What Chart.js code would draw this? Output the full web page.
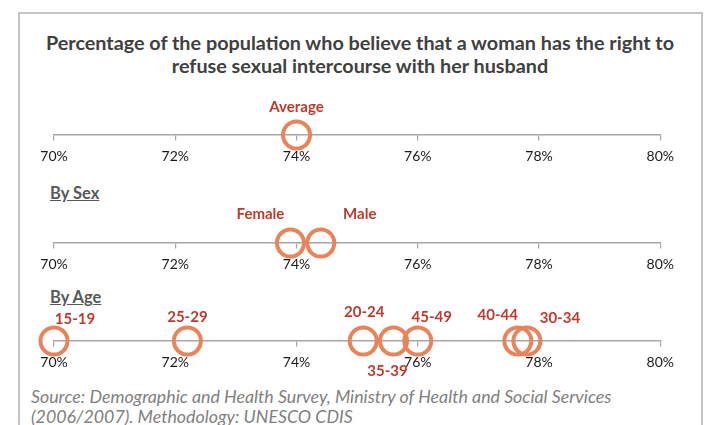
<!DOCTYPE html>
<html>
<head>
<meta charset="utf-8">
<script src="https://cdn.jsdelivr.net/npm/chart.js@4"></script>
<style>
  body { margin: 0; width: 711px; height: 425px; background: #fff; position: relative; overflow: hidden; font-family: Lato, "Open Sans", sans-serif; }
  .frame { position: absolute; left: 18px; top: 12px; width: 681px; height: 440px; border: 2px solid #c4c4c4; }
  .title { position: absolute; left: 20px; width: 680px; top: 31px; text-align: center; font-weight: bold; font-size: 19.8px; line-height: 23px; color: #404040; }
  .section { position: absolute; left: 50px; font-weight: bold; font-size: 16.5px; color: #595959; text-decoration: underline; }
  .source { position: absolute; left: 31px; top: 386px; font-style: italic; font-size: 17.8px; line-height: 20px; color: #7f7f7f; }
  canvas { position: absolute; left: 0; }
</style>
</head>
<body>
<div class="frame"></div>
<div class="title">Percentage of the population who believe that a woman has the right to<br>refuse sexual intercourse with her husband</div>
<div class="section" style="top:183px">By Sex</div>
<div class="section" style="top:287px">By Age</div>
<div class="source">Source: Demographic and Health Survey, Ministry of Health and Social Services<br>(2006/2007). Methodology: UNESCO CDIS</div>

<div style="position:absolute;left:0;top:90px;width:711px;height:90px"><canvas id="row1"></canvas></div>
<div style="position:absolute;left:0;top:198px;width:711px;height:90px"><canvas id="row2"></canvas></div>
<div style="position:absolute;left:0;top:296px;width:711px;height:90px"><canvas id="row3"></canvas></div>

<script>
// data
const averageLabels = ['Average'];
const averageValues = [74.0];

const sexLabels = ['Female', 'Male'];
const sexValues = [73.9, 74.4];

const ageLabels = ['15-19', '25-29', '20-24', '35-39', '45-49', '40-44', '30-34'];
const ageValues = [70.0, 72.2, 75.1, 75.6, 76.0, 77.65, 77.8];

const axisMin = 70;
const axisMax = 80;
const axisStep = 2;

// where each data label sits relative to its circle (px)
const averageLabelOffsets = [[0, -28]];
const sexLabelOffsets = [[-30, -29], [39, -29]];
const ageLabelOffsets = [[21, -22], [0, -24], [1, -29], [-6, 30], [14, -24], [-20, -26], [33, -23]];

const ORANGE = '#e8835a';
const RED = '#bf3a2c';

const pointLabels = {
    id: 'pointLabels',
    afterDatasetsDraw(chart, args, opts) {
        const ctx = chart.ctx;
        const meta = chart.getDatasetMeta(0);
        ctx.save();
        ctx.font = 'bold 15px Lato';
        ctx.fillStyle = RED;
        ctx.textAlign = 'center';
        ctx.textBaseline = 'middle';
        meta.data.forEach((pt, i) => {
            const off = opts.offsets[i];
            ctx.fillText(opts.labels[i], pt.x + off[0], pt.y + off[1]);
        });
        ctx.restore();
    }
};

function createRow(canvas, labels, values, offsets) {
    new Chart(canvas, {
        type: 'scatter',
        data: {
            datasets: [{
                data: values.map(v => ({x: v, y: 0})),
                pointRadius: 13.5,
                pointHoverRadius: 13.5,
                pointBorderWidth: 4,
                pointBackgroundColor: 'rgba(0,0,0,0)',
                pointBorderColor: ORANGE,
                clip: false
            }]
        },
        options: {
            responsive: true,
            maintainAspectRatio: false,
            animation: false,
            events: [],
            layout: { padding: { left: 54, right: 50.7, top: 0, bottom: 0 } },
            plugins: {
                legend: { display: false },
                tooltip: { enabled: false },
                pointLabels: { labels: labels, offsets: offsets }
            },
            scales: {
                x: {
                    type: 'linear',
                    min: axisMin,
                    max: axisMax,
                    position: { y: 0 },
                    grid: { drawOnChartArea: false, drawTicks: true, tickLength: 5, color: '#a6a6a6', lineWidth: 1.2 },
                    border: { color: '#a6a6a6', width: 1.5 },
                    ticks: {
                        stepSize: axisStep,
                        padding: 8,
                        color: '#1a1a1a',
                        font: { family: 'Lato', size: 14 },
                        callback: v => v + '%'
                    }
                },
                y: { min: -1, max: 1, display: false }
            }
        },
        plugins: [pointLabels]
    });
}

createRow(document.getElementById('row1'), averageLabels, averageValues, averageLabelOffsets);
createRow(document.getElementById('row2'), sexLabels, sexValues, sexLabelOffsets);
createRow(document.getElementById('row3'), ageLabels, ageValues, ageLabelOffsets);
</script>
</body>
</html>
